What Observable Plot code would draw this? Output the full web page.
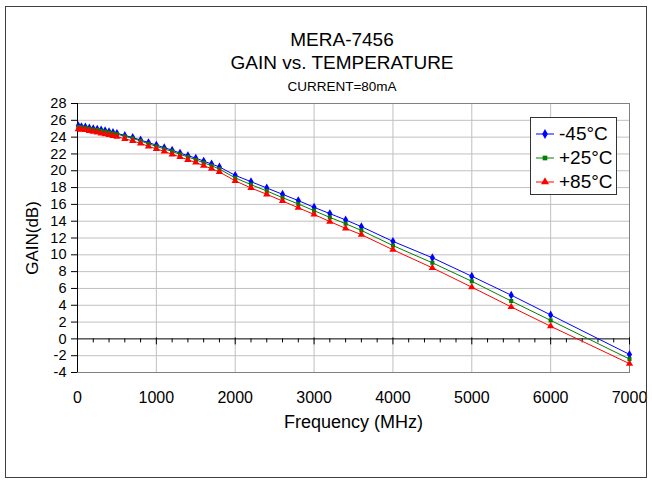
<!DOCTYPE html>
<html><head><meta charset="utf-8">
<script src="https://cdn.jsdelivr.net/npm/d3@7"></script>
<script src="https://cdn.jsdelivr.net/npm/@observablehq/plot@0.6"></script>
<style>
body{margin:0;background:#fff;font-family:"Liberation Sans",Arial,sans-serif;}
#wrap{position:relative;width:652px;height:483px;overflow:hidden;}
#border{position:absolute;left:5px;top:6px;width:642px;height:472px;border:1px solid #404040;box-sizing:border-box;pointer-events:none}
.t{position:absolute;left:0;width:684px;text-align:center;color:#000;white-space:nowrap}
#chart{position:absolute;left:0;top:0}
#legend{position:absolute;left:530px;top:117px;width:87px;height:78px;border:1px solid #333;box-sizing:border-box;background:#fff}
.row{position:absolute;left:4px;height:24px;display:flex;align-items:center;font-size:19px;line-height:24px}
.row svg{margin-right:4px}
</style></head>
<body>
<div id="wrap">
  <div id="chart"></div>
  <div class="t" style="top:28px;font-size:19px;line-height:24px">MERA-7456</div>
  <div class="t" style="top:51px;font-size:19px;line-height:24px">GAIN vs. TEMPERATURE</div>
  <div class="t" style="top:79px;font-size:13.5px;line-height:16px">CURRENT=80mA</div>
  <div id="legend"></div>
  <div id="border"></div>
</div>
<script>
const freq = [10,50,100,150,200,250,300,350,400,450,500,600,700,800,900,1000,1100,1200,1300,1400,1500,1600,1700,1800,2000,2200,2400,2600,2800,3000,3200,3400,3600,4000,4500,5000,5500,6000,7000];
const gainM45 = [25.35,25.25,25.2,25.1,25.0,24.95,24.85,24.75,24.65,24.55,24.45,24.2,23.95,23.65,23.35,23.05,22.75,22.45,22.1,21.8,21.5,21.15,20.8,20.45,19.45,18.7,17.95,17.2,16.45,15.65,14.9,14.15,13.35,11.6,9.65,7.45,5.2,2.85,-1.85];
const gainP25 = [25.2,25.15,25.1,25.0,24.9,24.85,24.75,24.65,24.55,24.45,24.35,24.1,23.85,23.55,23.2,22.9,22.6,22.3,21.95,21.65,21.3,20.95,20.6,20.2,19.15,18.35,17.6,16.8,16.05,15.25,14.45,13.7,12.9,11.1,9.05,6.85,4.5,2.2,-2.4];
const gainP85 = [24.95,24.9,24.85,24.75,24.65,24.55,24.45,24.35,24.25,24.15,24.05,23.8,23.55,23.25,22.9,22.6,22.3,21.95,21.65,21.3,21.0,20.6,20.25,19.85,18.8,17.95,17.2,16.4,15.6,14.8,13.95,13.15,12.4,10.6,8.45,6.15,3.8,1.5,-2.95];
const seriesNames = ["-45°C","+25°C","+85°C"];
const seriesColors = ["#0000ff","#008000","#ff0000"];
const seriesSymbols = ["diamond","square","triangle"];
const seriesValues = [gainM45,gainP25,gainP85];
const xTicks = [0,1000,2000,3000,4000,5000,6000,7000];
const yTicks = [-4,-2,0,2,4,6,8,10,12,14,16,18,20,22,24,26,28];
const minorX = d3.range(200,7000,200).filter(d=>d%1000!==0);

const series = seriesNames.map((name,k)=>({
  name, color:seriesColors[k], symbol:seriesSymbols[k],
  data: freq.map((f,i)=>({f, g:seriesValues[k][i]}))
}));

const marks = [
  Plot.ruleY(yTicks.filter(d=>d!==0),{stroke:"#c0c0c0"}),
  Plot.ruleX(xTicks.filter(d=>d!==0),{stroke:"#c0c0c0"}),
  Plot.frame({stroke:"#808080"}),
  Plot.axisY({ticks:yTicks, tickSize:6, tickPadding:5, fontSize:14.5, tickFormat:d=>String(d).replace("−","-"), label:null}),
  Plot.axisY({ticks:[], tickSize:0, fontSize:17, label:"GAIN(dB)", labelAnchor:"center", labelOffset:52, labelArrow:false}),
  Plot.axisX({ticks:xTicks, tickSize:0, tickPadding:19, fontSize:16, tickFormat:d3.format("d"), label:null}),
  Plot.axisX({ticks:[], tickSize:0, fontSize:18, label:"Frequency (MHz)", labelAnchor:"center", labelOffset:55, labelArrow:false}),
  Plot.ruleX([0],{stroke:"#000"}),
  Plot.ruleY([0],{stroke:"#000"}),
  Plot.ruleX(minorX,{x:d=>d, y1:0, y2:0, insetTop:0, insetBottom:-4, stroke:"#000"}),
  Plot.ruleX(xTicks,{x:d=>d, y1:0, y2:0, insetTop:-1, insetBottom:-6, stroke:"#000"})
];
for (const s of series) {
  marks.push(Plot.line(s.data,{x:"f", y:"g", stroke:s.color, strokeWidth:1}));
}
for (const s of series) {
  marks.push(Plot.dot(s.data,{x:"f", y:"g", symbol:s.symbol, fill:s.color, stroke:"none", r: s.symbol==="square"?2.3:2.7}));
}

const chart = Plot.plot({
  width:652, height:483,
  marginLeft:77, marginRight:23, marginTop:103, marginBottom:111,
  style:{fontFamily:"'Liberation Sans', Arial, sans-serif", fontSize:"16px", background:"transparent", color:"#000"},
  x:{domain:[0,7000]},
  y:{domain:[-4,28]},
  marks
});
document.getElementById("chart").appendChild(chart);

// legend
const leg = document.getElementById("legend");
series.forEach((s,k)=>{
  const row = document.createElement("div");
  row.className="row";
  row.style.top = (4 + k*24) + "px";
  const sym = d3.symbol(s.symbol==="diamond"?d3.symbolDiamond:s.symbol==="square"?d3.symbolSquare:d3.symbolTriangle, s.symbol==="square"?22:28)();
  row.innerHTML = `<svg width="20" height="12"><line x1="1" x2="19" y1="6" y2="6" stroke="${s.color}"/><path d="${sym}" transform="translate(10,6)" fill="${s.color}"/></svg><span>${s.name}</span>`;
  leg.appendChild(row);
});
</script>
</body></html>
